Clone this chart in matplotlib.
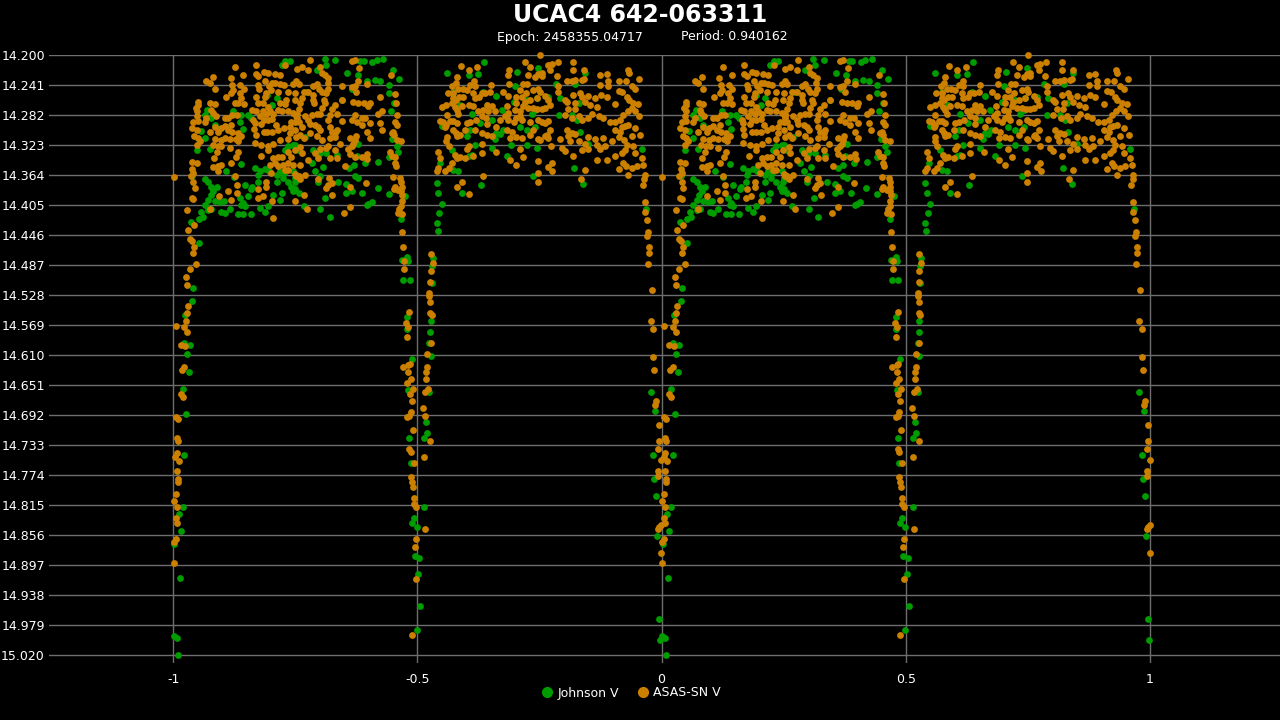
import numpy as np
import matplotlib
matplotlib.use('Agg')
import matplotlib.pyplot as plt
from matplotlib.lines import Line2D

# phase-folded light curve (phase 0..1, V mag)
title = 'UCAC4 642-063311'
epoch = 2458355.04717
period = 0.940162
series_names = ['Johnson V', 'ASAS-SN V']

# ASAS-SN V, maximum between primary and secondary eclipse
asas_max1 = [
    (0.230,14.214),(0.126,14.217),(0.169,14.214),(0.218,14.227),(0.208,14.226),(0.194,14.224),
    (0.186,14.223),(0.169,14.226),(0.174,14.229),(0.144,14.227),(0.118,14.231),(0.082,14.230),
    (0.068,14.236),(0.075,14.238),(0.085,14.246),(0.121,14.241),(0.123,14.248),(0.138,14.241),
    (0.145,14.246),(0.174,14.241),(0.176,14.247),(0.189,14.236),(0.196,14.243),(0.203,14.238),
    (0.209,14.238),(0.218,14.239),(0.227,14.241),(0.246,14.240),(0.252,14.235),(0.119,14.252),
    (0.136,14.252),(0.140,14.259),(0.108,14.258),(0.126,14.265),(0.133,14.265),(0.145,14.267),
    (0.169,14.258),(0.173,14.266),(0.184,14.265),(0.191,14.252),(0.189,14.258),(0.201,14.248),
    (0.215,14.250),(0.235,14.250),(0.232,14.261),(0.194,14.271),(0.218,14.266),(0.229,14.267),
    (0.249,14.261),(0.050,14.264),(0.051,14.268),(0.046,14.273),(0.076,14.266),(0.085,14.267),
    (0.078,14.275),(0.081,14.279),(0.049,14.277),(0.048,14.284),(0.041,14.291),(0.051,14.290),
    (0.068,14.286),(0.065,14.291),(0.087,14.284),(0.106,14.286),(0.113,14.286),(0.121,14.282),
    (0.130,14.282),(0.162,14.275),(0.169,14.277),(0.164,14.289),(0.177,14.284),(0.184,14.277),
    (0.191,14.280),(0.198,14.277),(0.205,14.280),(0.215,14.275),(0.222,14.276),(0.235,14.277),
    (0.246,14.279),(0.252,14.284),(0.186,14.289),(0.194,14.289),(0.203,14.288),(0.038,14.300),
    (0.048,14.302),(0.043,14.311),(0.050,14.314),(0.055,14.318),(0.048,14.323),(0.075,14.305),
    (0.085,14.298),(0.092,14.305),(0.098,14.300),(0.106,14.297),(0.113,14.302),(0.119,14.296),
    (0.121,14.305),(0.132,14.307),(0.134,14.312),(0.140,14.311),(0.167,14.293),(0.166,14.301),
    (0.169,14.309),(0.181,14.294),(0.186,14.305),(0.193,14.305),(0.203,14.305),(0.210,14.296),
    (0.215,14.302),(0.227,14.300),(0.239,14.298),(0.242,14.291),(0.250,14.291),(0.239,14.307),
    (0.085,14.315),(0.098,14.316),(0.106,14.314),(0.116,14.315),(0.128,14.315),(0.133,14.317),
    (0.081,14.323),(0.091,14.325),(0.099,14.325),(0.116,14.327),(0.167,14.320),(0.181,14.323),
    (0.194,14.325),(0.194,14.330),(0.205,14.321),(0.218,14.316),(0.235,14.315),(0.252,14.312),
    (0.089,14.332),(0.132,14.333),(0.128,14.339),(0.179,14.338),(0.205,14.341),(0.215,14.340),
    (0.224,14.339),(0.235,14.332),(0.249,14.330),(0.242,14.339),(0.038,14.346),(0.048,14.348),
    (0.083,14.341),(0.082,14.353),(0.092,14.352),(0.099,14.351),(0.119,14.348),(0.039,14.356),
    (0.041,14.361),(0.092,14.358),(0.198,14.350),(0.208,14.348),(0.215,14.352),(0.225,14.350),
    (0.235,14.348),(0.246,14.350),(0.229,14.357),(0.235,14.357),(0.201,14.361),(0.036,14.365),
    (0.041,14.373),(0.126,14.366),(0.130,14.377),(0.174,14.383),(0.191,14.373),(0.191,14.380),
    (0.252,14.366),(0.044,14.382),(0.094,14.393),(0.113,14.386),(0.038,14.395),(0.041,14.397),
    (0.130,14.389),(0.173,14.396),(0.184,14.393),(0.203,14.400),(0.249,14.400),(0.119,14.398),
    (0.075,14.411),(0.029,14.412),(0.205,14.423),
]
asas_max1b = [
    (0.280,14.207),(0.366,14.208),(0.372,14.207),(0.263,14.216),(0.277,14.221),(0.253,14.219),
    (0.301,14.216),(0.304,14.224),(0.311,14.227),(0.318,14.231),(0.317,14.238),(0.381,14.218),
    (0.379,14.236),(0.372,14.243),(0.396,14.239),(0.446,14.227),(0.345,14.242),(0.366,14.244),
    (0.375,14.250),(0.287,14.243),(0.294,14.239),(0.299,14.246),(0.257,14.239),(0.267,14.250),
    (0.250,14.252),(0.263,14.259),(0.277,14.250),(0.287,14.255),(0.304,14.251),(0.314,14.252),
    (0.318,14.247),(0.287,14.261),(0.289,14.266),(0.308,14.261),(0.311,14.266),(0.304,14.273),
    (0.301,14.280),(0.332,14.268),(0.325,14.274),(0.321,14.282),(0.335,14.280),(0.260,14.266),
    (0.257,14.274),(0.253,14.280),(0.270,14.284),(0.284,14.282),(0.294,14.280),(0.345,14.261),
    (0.369,14.264),(0.379,14.266),(0.390,14.265),(0.403,14.266),(0.400,14.270),(0.424,14.258),
    (0.454,14.253),(0.456,14.266),(0.428,14.277),(0.420,14.281),(0.458,14.282),(0.277,14.289),
    (0.280,14.294),(0.291,14.296),(0.297,14.298),(0.301,14.302),(0.318,14.289),(0.321,14.298),
    (0.325,14.305),(0.332,14.307),(0.335,14.302),(0.345,14.290),(0.366,14.289),(0.372,14.282),
    (0.376,14.291),(0.386,14.286),(0.393,14.286),(0.386,14.296),(0.403,14.293),(0.396,14.305),
    (0.403,14.314),(0.424,14.293),(0.428,14.302),(0.454,14.291),(0.458,14.296),(0.448,14.307),
    (0.453,14.309),(0.451,14.305),(0.253,14.286),(0.257,14.291),(0.263,14.298),(0.260,14.309),
    (0.267,14.314),(0.250,14.302),(0.280,14.307),(0.294,14.311),(0.304,14.316),(0.321,14.314),
    (0.332,14.312),(0.342,14.321),(0.362,14.314),(0.372,14.316),(0.374,14.311),(0.369,14.321),
    (0.366,14.325),(0.359,14.329),(0.318,14.325),(0.314,14.327),(0.301,14.329),(0.291,14.334),
    (0.260,14.326),(0.263,14.334),(0.297,14.341),(0.321,14.341),(0.332,14.330),(0.335,14.341),
    (0.362,14.335),(0.372,14.340),(0.386,14.340),(0.396,14.335),(0.398,14.342),(0.458,14.316),
    (0.467,14.318),(0.444,14.332),(0.448,14.338),(0.454,14.339),(0.454,14.347),(0.456,14.352),
    (0.277,14.343),(0.260,14.351),(0.351,14.352),(0.250,14.362),(0.257,14.366),(0.260,14.370),
    (0.270,14.364),(0.297,14.370),(0.320,14.368),(0.325,14.375),(0.318,14.377),(0.362,14.380),
    (0.394,14.375),(0.451,14.367),(0.454,14.380),(0.465,14.368),(0.467,14.374),(0.468,14.381),
    (0.452,14.383),(0.461,14.384),(0.467,14.386),(0.469,14.392),(0.269,14.392),(0.314,14.382),
    (0.326,14.392),(0.468,14.400),(0.467,14.407),(0.463,14.411),(0.469,14.418),(0.461,14.416),
    (0.274,14.411),(0.362,14.408),(0.349,14.416),
]
# ASAS-SN V, maximum between secondary and primary eclipse
asas_max2a = [
    (0.589,14.215),(0.605,14.221),(0.623,14.217),(0.581,14.230),(0.579,14.238),(0.572,14.243),
    (0.584,14.247),(0.593,14.246),(0.601,14.248),(0.608,14.241),(0.618,14.242),(0.617,14.236),
    (0.562,14.252),(0.574,14.252),(0.586,14.257),(0.579,14.262),(0.570,14.266),(0.574,14.259),
    (0.594,14.257),(0.615,14.252),(0.618,14.259),(0.627,14.257),(0.632,14.252),(0.639,14.252),
    (0.649,14.251),(0.651,14.241),(0.676,14.250),(0.686,14.227),(0.688,14.221),(0.720,14.210),
    (0.731,14.217),(0.727,14.227),(0.741,14.230),(0.748,14.226),(0.688,14.239),(0.716,14.239),
    (0.724,14.239),(0.710,14.248),(0.722,14.252),(0.737,14.248),(0.748,14.246),(0.686,14.256),
    (0.703,14.257),(0.714,14.257),(0.720,14.264),(0.731,14.261),(0.744,14.259),(0.703,14.265),
    (0.717,14.270),(0.727,14.273),(0.737,14.273),(0.746,14.274),(0.700,14.275),(0.710,14.277),
    (0.684,14.270),(0.683,14.282),(0.686,14.279),(0.659,14.277),(0.645,14.277),(0.635,14.275),
    (0.625,14.277),(0.642,14.268),(0.652,14.270),(0.615,14.270),(0.605,14.268),(0.591,14.270),
    (0.581,14.275),(0.577,14.271),(0.584,14.280),(0.559,14.268),(0.550,14.271),(0.560,14.282),
    (0.553,14.291),(0.557,14.298),(0.559,14.296),(0.547,14.290),(0.567,14.290),(0.574,14.290),
    (0.581,14.293),(0.574,14.302),(0.579,14.306),(0.581,14.311),(0.587,14.309),(0.598,14.302),
    (0.601,14.293),(0.608,14.291),(0.620,14.289),(0.632,14.284),(0.641,14.286),(0.642,14.294),
    (0.662,14.299),(0.669,14.289),(0.680,14.284),(0.686,14.289),(0.697,14.291),(0.703,14.286),
    (0.710,14.284),(0.714,14.289),(0.731,14.291),(0.748,14.289),(0.683,14.302),(0.693,14.305),
    (0.690,14.314),(0.703,14.312),(0.714,14.314),(0.731,14.309),(0.737,14.302),(0.748,14.315),
    (0.652,14.311),(0.642,14.309),(0.632,14.306),(0.618,14.303),(0.605,14.325),(0.601,14.329),
    (0.632,14.321),(0.615,14.338),(0.661,14.332),(0.690,14.343),(0.710,14.329),(0.717,14.339),
    (0.703,14.351),(0.748,14.345),(0.560,14.312),(0.559,14.317),(0.564,14.325),(0.577,14.336),
    (0.581,14.341),(0.570,14.347),(0.564,14.355),(0.557,14.359),(0.547,14.341),(0.543,14.332),
    (0.543,14.355),(0.540,14.359),(0.587,14.339),(0.598,14.341),(0.632,14.334),(0.635,14.365),
    (0.581,14.380),(0.591,14.374),(0.605,14.390),(0.748,14.361),(0.748,14.373),
]
asas_max2b = [
    (0.751,14.200),(0.755,14.224),(0.768,14.214),(0.775,14.212),(0.772,14.220),(0.787,14.209),
    (0.785,14.229),(0.819,14.209),(0.819,14.220),(0.842,14.220),(0.874,14.227),(0.888,14.226),
    (0.931,14.220),(0.933,14.224),(0.954,14.233),(0.755,14.229),(0.789,14.243),(0.806,14.235),
    (0.816,14.236),(0.823,14.234),(0.837,14.234),(0.841,14.233),(0.874,14.241),(0.891,14.235),
    (0.891,14.243),(0.912,14.235),(0.927,14.235),(0.939,14.242),(0.946,14.247),(0.751,14.251),
    (0.762,14.256),(0.768,14.261),(0.772,14.268),(0.762,14.273),(0.755,14.274),(0.789,14.250),
    (0.802,14.261),(0.806,14.264),(0.819,14.255),(0.833,14.252),(0.837,14.257),(0.823,14.265),
    (0.822,14.274),(0.809,14.274),(0.843,14.264),(0.854,14.268),(0.850,14.256),(0.864,14.259),
    (0.867,14.271),(0.877,14.255),(0.888,14.257),(0.905,14.267),(0.912,14.249),(0.920,14.250),
    (0.929,14.257),(0.933,14.261),(0.942,14.266),(0.952,14.267),(0.939,14.273),(0.931,14.276),
    (0.946,14.277),(0.954,14.284),(0.922,14.282),(0.915,14.289),(0.905,14.292),(0.894,14.291),
    (0.881,14.286),(0.871,14.284),(0.857,14.280),(0.850,14.286),(0.837,14.289),(0.830,14.283),
    (0.817,14.286),(0.802,14.282),(0.768,14.290),(0.762,14.293),(0.755,14.292),(0.772,14.302),
    (0.765,14.309),(0.768,14.314),(0.751,14.316),(0.762,14.311),(0.806,14.302),(0.816,14.307),
    (0.809,14.311),(0.823,14.308),(0.830,14.317),(0.813,14.318),(0.792,14.315),(0.774,14.325),
    (0.796,14.327),(0.802,14.331),(0.819,14.338),(0.837,14.330),(0.850,14.312),(0.864,14.315),
    (0.881,14.314),(0.867,14.323),(0.874,14.329),(0.850,14.329),(0.843,14.321),(0.884,14.325),
    (0.898,14.318),(0.905,14.302),(0.915,14.305),(0.918,14.298),(0.925,14.297),(0.932,14.296),
    (0.912,14.312),(0.924,14.316),(0.929,14.323),(0.939,14.311),(0.946,14.300),(0.956,14.309),
    (0.942,14.325),(0.925,14.330),(0.918,14.334),(0.946,14.334),(0.959,14.341),(0.905,14.338),
    (0.888,14.343),(0.867,14.343),(0.922,14.347),(0.927,14.352),(0.912,14.356),(0.939,14.355),
    (0.949,14.352),(0.963,14.351),(0.966,14.364),(0.961,14.377),(0.965,14.370),(0.932,14.364),
    (0.775,14.347),(0.768,14.353),(0.776,14.359),(0.843,14.357),(0.835,14.370),
]
# ASAS-SN V, primary eclipse (ingress and egress)
asas_primary = [
    (0.966,14.401),(0.966,14.414),(0.970,14.425),(0.972,14.442),(0.970,14.447),(0.974,14.463),
    (0.974,14.470),(0.972,14.485),(0.980,14.521),(0.978,14.564),(0.983,14.575),(0.983,14.613),
    (0.985,14.631),(0.989,14.673),(0.987,14.678),(0.995,14.706),(0.995,14.727),(0.993,14.739),
    (0.999,14.754),(0.993,14.769),(0.993,14.776),(0.001,14.810),(0.995,14.845),(0.993,14.848),
    (0.999,14.843),(0.001,14.866),(0.999,14.881),(0.001,14.895),(0.001,14.367),(0.006,14.571),
    (0.043,14.432),(0.031,14.439),(0.035,14.452),(0.039,14.454),(0.043,14.463),(0.041,14.470),
    (0.047,14.485),(0.035,14.493),(0.027,14.503),(0.029,14.514),(0.031,14.543),(0.029,14.552),
    (0.027,14.563),(0.023,14.572),(0.029,14.578),(0.016,14.596),(0.025,14.598),(0.023,14.627),
    (0.018,14.631),(0.016,14.664),(0.020,14.667),(0.006,14.695),(0.010,14.698),(0.008,14.724),
    (0.010,14.728),(0.008,14.744),(0.004,14.750),(0.012,14.755),(0.008,14.768),(0.010,14.779),
    (0.010,14.784),(0.006,14.800),(0.008,14.818),(0.006,14.833),(0.008,14.840),(0.006,14.862),
]
# ASAS-SN V, secondary eclipse
asas_secondary = [
    (0.469,14.442),(0.471,14.463),(0.473,14.482),(0.473,14.492),(0.483,14.551),(0.477,14.566),
    (0.481,14.572),(0.479,14.586),(0.471,14.626),(0.481,14.624),(0.485,14.622),(0.481,14.633),
    (0.487,14.643),(0.479,14.648),(0.491,14.656),(0.485,14.664),(0.489,14.673),(0.528,14.472),
    (0.532,14.484),(0.528,14.495),(0.526,14.510),(0.524,14.525),(0.524,14.530),(0.526,14.537),
    (0.526,14.552),(0.530,14.555),(0.528,14.593),(0.520,14.608),(0.520,14.627),(0.518,14.633),
    (0.518,14.643),(0.522,14.656),(0.516,14.660),(0.512,14.682),(0.487,14.688),(0.483,14.693),
    (0.479,14.695),(0.491,14.713),(0.483,14.738),(0.487,14.743),(0.493,14.758),(0.487,14.777),
    (0.489,14.783),(0.491,14.791),(0.493,14.806),(0.493,14.813),(0.497,14.818),(0.497,14.862),
    (0.495,14.873),(0.497,14.916),(0.489,14.993),(0.516,14.693),(0.526,14.728),(0.514,14.749),
    (0.516,14.848),
]

# Johnson V
johnson_max1 = [
    (0.230,14.208),(0.239,14.208),(0.222,14.214),(0.193,14.255),(0.212,14.259),(0.203,14.268),
    (0.070,14.275),(0.065,14.282),(0.078,14.286),(0.085,14.296),(0.123,14.276),(0.140,14.282),
    (0.153,14.282),(0.159,14.286),(0.057,14.304),(0.065,14.314),(0.136,14.291),(0.143,14.301),
    (0.235,14.325),(0.246,14.323),(0.075,14.329),(0.048,14.330),(0.229,14.330),(0.140,14.349),
    (0.109,14.359),(0.167,14.355),(0.177,14.359),(0.188,14.356),(0.174,14.364),(0.196,14.359),
    (0.212,14.364),(0.218,14.359),(0.227,14.361),(0.246,14.359),(0.252,14.364),(0.039,14.365),
    (0.065,14.370),(0.072,14.374),(0.125,14.367),(0.147,14.377),(0.162,14.381),(0.173,14.373),
    (0.212,14.373),(0.225,14.368),(0.235,14.374),(0.242,14.380),(0.249,14.373),(0.078,14.380),
    (0.089,14.380),(0.082,14.386),(0.077,14.391),(0.072,14.398),(0.065,14.405),(0.085,14.400),
    (0.096,14.401),(0.104,14.400),(0.136,14.396),(0.143,14.402),(0.153,14.393),(0.160,14.383),
    (0.205,14.391),(0.222,14.389),(0.246,14.386),(0.218,14.398),(0.194,14.407),(0.177,14.409),
    (0.147,14.407),(0.140,14.405),(0.116,14.411),(0.099,14.414),(0.078,14.411),(0.072,14.412),
    (0.058,14.415),(0.061,14.421),(0.106,14.416),(0.132,14.418),(0.143,14.418),(0.159,14.418),
    (0.188,14.415),
]
johnson_max1b = [
    (0.311,14.206),(0.332,14.207),(0.383,14.208),(0.390,14.208),(0.408,14.209),(0.417,14.207),
    (0.430,14.206),(0.314,14.214),(0.294,14.221),(0.357,14.224),(0.378,14.227),(0.396,14.236),
    (0.413,14.234),(0.424,14.235),(0.451,14.221),(0.463,14.233),(0.442,14.241),(0.367,14.246),
    (0.274,14.250),(0.345,14.261),(0.442,14.252),(0.453,14.265),(0.446,14.277),(0.379,14.321),
    (0.270,14.312),(0.250,14.323),(0.257,14.330),(0.287,14.330),(0.301,14.334),(0.314,14.334),
    (0.335,14.336),(0.376,14.338),(0.393,14.347),(0.449,14.315),(0.458,14.325),(0.461,14.332),
    (0.441,14.339),(0.420,14.346),(0.284,14.347),(0.291,14.358),(0.306,14.353),(0.361,14.355),
    (0.371,14.351),(0.250,14.368),(0.301,14.366),(0.297,14.373),(0.338,14.374),(0.355,14.376),
    (0.372,14.366),(0.379,14.368),(0.419,14.382),(0.475,14.393),(0.442,14.390),(0.250,14.383),
    (0.257,14.389),(0.312,14.395),(0.355,14.389),(0.366,14.386),(0.387,14.388),(0.400,14.403),
    (0.407,14.401),(0.396,14.405),(0.267,14.407),(0.301,14.411),(0.321,14.421),(0.467,14.424),
]
johnson_max2 = [
    (0.560,14.225),(0.605,14.227),(0.625,14.226),(0.637,14.210),(0.574,14.251),(0.635,14.250),
    (0.662,14.256),(0.705,14.223),(0.700,14.243),(0.724,14.261),(0.697,14.264),(0.734,14.280),
    (0.673,14.275),(0.611,14.280),(0.587,14.268),(0.550,14.297),(0.628,14.293),(0.652,14.289),
    (0.741,14.299),(0.710,14.298),(0.724,14.302),(0.675,14.302),(0.662,14.306),(0.659,14.315),
    (0.669,14.308),(0.608,14.302),(0.601,14.311),(0.618,14.323),(0.611,14.336),(0.652,14.327),
    (0.683,14.338),(0.691,14.323),(0.724,14.323),(0.744,14.327),(0.570,14.330),(0.547,14.348),
    (0.574,14.357),(0.584,14.359),(0.605,14.338),(0.630,14.377),(0.540,14.375),(0.543,14.388),
    (0.591,14.389),(0.550,14.403),(0.737,14.365),(0.748,14.218),(0.843,14.224),(0.783,14.239),
    (0.823,14.239),(0.744,14.259),(0.768,14.257),(0.741,14.275),(0.792,14.259),(0.830,14.265),
    (0.816,14.282),(0.826,14.289),(0.790,14.282),(0.833,14.305),(0.959,14.329),(0.850,14.321),
    (0.821,14.355),(0.840,14.376),
]
johnson_primary = [
    (0.978,14.661),(0.968,14.411),(0.987,14.687),(0.983,14.747),(0.985,14.780),(0.989,14.803),
    (0.991,14.858),(0.995,14.971),(0.997,14.999),(0.001,14.994),(0.008,14.997),(0.010,15.020),
    (0.037,14.428),(0.053,14.424),(0.053,14.457),(0.041,14.519),(0.039,14.536),(0.025,14.555),
    (0.023,14.594),(0.035,14.597),(0.029,14.609),(0.033,14.633),(0.020,14.656),(0.027,14.691),
    (0.023,14.747),(0.020,14.818),(0.012,14.828),(0.016,14.851),(0.002,14.869),(0.014,14.915),
]
johnson_secondary = [
    (0.479,14.476),(0.469,14.480),(0.481,14.482),(0.471,14.508),(0.485,14.508),(0.479,14.558),
    (0.479,14.575),(0.489,14.615),(0.481,14.658),(0.545,14.416),(0.540,14.429),(0.542,14.440),
    (0.532,14.477),(0.530,14.489),(0.530,14.511),(0.528,14.563),(0.526,14.579),(0.524,14.594),
    (0.528,14.611),(0.524,14.661),(0.483,14.724),(0.487,14.758),(0.493,14.833),(0.489,14.840),
    (0.499,14.845),(0.495,14.885),(0.518,14.702),(0.520,14.717),(0.514,14.724),(0.514,14.818),
    (0.504,14.888),(0.502,14.910),(0.506,14.953),(0.499,14.986),
]

y_ticks = [round(14.2 + 0.041 * k, 3) for k in range(21)]
x_ticks = [-1, -0.5, 0, 0.5, 1]

green = '#009c00'
orange = '#cc8000'
grid_c = '#6e6e6e'


def unfold(*parts):
    pts = np.array([p for part in parts for p in part])
    ph, mag = pts[:, 0], pts[:, 1]
    # phase plot shows two cycles: phase-1 and phase
    return np.concatenate([ph - 1, ph]), np.concatenate([mag, mag])


jx, jy = unfold(johnson_max1, johnson_max1b, johnson_max2, johnson_primary, johnson_secondary)
ax_, ay_ = unfold(asas_max1, asas_max1b, asas_max2a, asas_max2b, asas_primary, asas_secondary)

fig = plt.figure(figsize=(12.8, 7.2), dpi=100, facecolor='black')
ax = fig.add_axes([49 / 1280, 1 - 663 / 720, 1 - 49 / 1280, (663 - 55) / 720])
ax.set_facecolor('black')

ax.scatter(jx, jy, s=24, color=green, linewidths=0, zorder=3, clip_on=False)
ax.scatter(ax_, ay_, s=24, color=orange, linewidths=0, zorder=4, clip_on=False)

ax.set_xlim(-1.254, 1.266)
ax.set_ylim(15.031, 14.2)
ax.set_yticks(y_ticks)
ax.set_yticklabels(['%.3f' % v for v in y_ticks])
ax.set_xticks(x_ticks)
ax.set_xticklabels(['-1', '-0.5', '0', '0.5', '1'])
ax.tick_params(colors='white', length=0, labelsize=9)
ax.tick_params(axis='y', pad=3)
ax.tick_params(axis='x', pad=7)
ax.grid(True, color=grid_c, linewidth=1)
ax.set_axisbelow(True)
for sp in ax.spines.values():
    sp.set_visible(False)

fig.text(0.5, 1 - 15 / 720, title, color='white', fontsize=17, fontweight='bold',
         ha='center', va='center')
fig.text(0.5 - 70 / 1280, 1 - 37 / 720, 'Epoch: %.5f' % epoch, color='white', fontsize=9,
         ha='center', va='center')
fig.text(0.5 + 94 / 1280, 1 - 37 / 720, 'Period: %.6f' % period, color='white', fontsize=9,
         ha='center', va='center')

handles = [Line2D([], [], marker='o', linestyle='', color=green, markersize=7, label=series_names[0]),
           Line2D([], [], marker='o', linestyle='', color=orange, markersize=7, label=series_names[1])]
fig.legend(handles=handles, loc='center', bbox_to_anchor=(0.5 - 10 / 1280, 1 - 693 / 720), ncol=2,
           frameon=False, labelcolor='white', fontsize=9, handletextpad=0.25,
           columnspacing=1.3, handlelength=1.2)

fig.savefig('out.png', dpi=100, facecolor='black')
